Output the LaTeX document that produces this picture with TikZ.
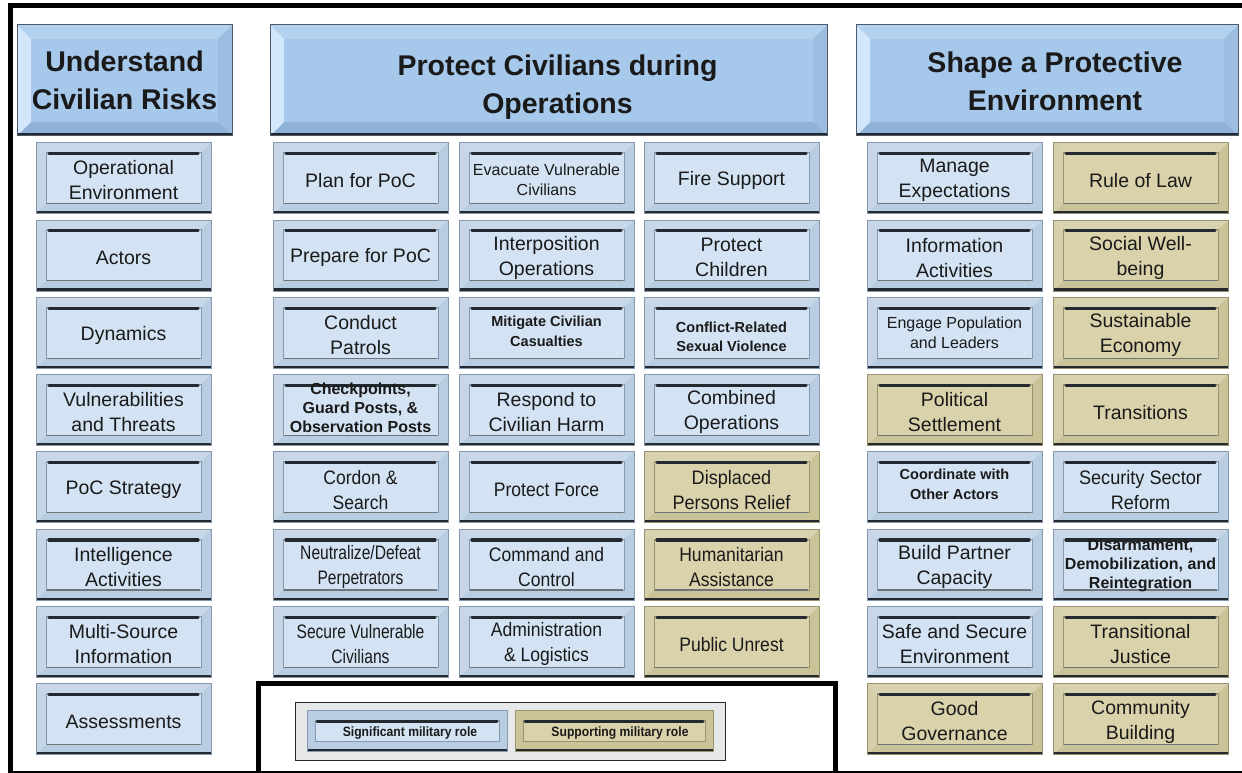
\documentclass[tikz,border=0pt]{standalone}
\usepackage{fontspec}
\setmainfont{Liberation Sans}
\newfontfamily\fntB{Liberation Sans Bold}
\newfontfamily\fntBn{Liberation Sans Bold}[FakeStretch=0.9]
\newfontfamily\fntNa{Liberation Sans}[FakeStretch=0.9]
\newfontfamily\fntNb{Liberation Sans}[FakeStretch=0.8]
\newfontfamily\fntNd{Liberation Sans}[FakeStretch=0.93]
\definecolor{txt}{HTML}{1A1A1A}
\definecolor{blueout}{HTML}{B8CCE2}
\definecolor{bluein}{HTML}{D3E3F3}
\definecolor{blueline}{HTML}{8698AE}
\definecolor{tanout}{HTML}{CBC398}
\definecolor{tanin}{HTML}{D9D2AB}
\definecolor{tanline}{HTML}{99926E}
\definecolor{dark}{HTML}{23292F}
\definecolor{hdrfill}{HTML}{A6C8EA}
\definecolor{hdrl}{HTML}{D2E7FB}
\definecolor{hdrt}{HTML}{B4D1EE}
\definecolor{hdrr}{HTML}{9EBEE1}
\definecolor{hdrb}{HTML}{90B2D8}
\definecolor{hdrrim}{HTML}{4C5A6A}
\definecolor{lgfill}{HTML}{E6E8EA}
\tikzset{
  cellbase/.style={inner sep=0pt, align=center, text=txt, line width=0.5pt},
  cell/.style={cellbase, minimum width=175pt, minimum height=71pt, draw=#1line, fill=#1out,
    path picture={
      \path (path picture bounding box.north west) coordinate (pA)
            (path picture bounding box.north east) coordinate (pB)
            (path picture bounding box.south east) coordinate (pC)
            (path picture bounding box.south west) coordinate (pD);
      \fill[white, opacity=0.25] (pA) -- (pB) -- ([shift={(-10,10)}]pB) -- ([shift={(10,10)}]pA) -- cycle;
      \fill[white, opacity=0.2] (pA) -- (pD) -- ([shift={(10,-10)}]pD) -- ([shift={(10,10)}]pA) -- cycle;
      \path[fill=#1in, draw=#1line, line width=0.7pt] ([shift={(10,10)}]pA) rectangle ([shift={(-10,-10)}]pC);
      \draw[dark, line width=3.2pt, line cap=round] ([shift={(13,11)}]pA) -- ([shift={(-13,11)}]pB);
      \draw[dark!65, line width=1.2pt] ([shift={(11,-10)}]pD) -- ([shift={(-11,-10)}]pC);
      \draw[dark, line width=5pt] (pD) -- (pC);
    }},
  cell/.default=blue,
  celltext/.style={inner sep=0pt, align=center, text=txt, font=\fontsize{19.5}{25}\selectfont},
  lgcell/.style={cellbase, minimum width=200pt, minimum height=41pt, draw=#1line, fill=#1out,
    path picture={
      \path (path picture bounding box.north west) coordinate (pA)
            (path picture bounding box.north east) coordinate (pB)
            (path picture bounding box.south east) coordinate (pC)
            (path picture bounding box.south west) coordinate (pD);
      \path[fill=#1in, draw=#1line, line width=0.7pt] ([shift={(8,10)}]pA) rectangle ([shift={(-8,-10)}]pC);
      \draw[dark, line width=3pt, line cap=round] ([shift={(10,11)}]pA) -- ([shift={(-10,11)}]pB);
      \draw[dark, line width=5pt] (pD) -- (pC);
    }},
  lgtext/.style={inner sep=0pt, text=txt, font=\fntBn\fontsize{13.5}{16}\selectfont},
  hdr/.style={cellbase, minimum height=111pt, draw=hdrrim, fill=hdrfill, line width=1pt,
    path picture={
      \path (path picture bounding box.north west) coordinate (pA)
            (path picture bounding box.north east) coordinate (pB)
            (path picture bounding box.south east) coordinate (pC)
            (path picture bounding box.south west) coordinate (pD);
      \fill[hdrt] (pA) -- (pB) -- ([shift={(-14,14)}]pB) -- ([shift={(14,14)}]pA) -- cycle;
      \fill[hdrr] (pB) -- (pC) -- ([shift={(-14,-14)}]pC) -- ([shift={(-14,14)}]pB) -- cycle;
      \fill[hdrb] (pD) -- (pC) -- ([shift={(-14,-14)}]pC) -- ([shift={(14,-14)}]pD) -- cycle;
      \fill[hdrl] (pA) -- (pD) -- ([shift={(14,-14)}]pD) -- ([shift={(14,14)}]pA) -- cycle;
      \draw[dark, line width=5pt] (pD) -- (pC);
    }},
  hdrtext/.style={inner sep=0pt, align=center, text=txt, font=\fontsize{28.5}{38}\bfseries},
  rg/.style={},
  c9/.style={font=\fntNa\fontsize{19.5}{25}\selectfont},
  c8/.style={font=\fntNb\fontsize{19.5}{25}\selectfont},
  c93/.style={font=\fntNd\fontsize{19.5}{25}\selectfont},
  nbs/.style={font=\fntB\fontsize{14.5}{19.5}\selectfont},
  nbl/.style={font=\fntB\fontsize{16}{19}\selectfont},
  sml/.style={font=\fontsize{16}{20.5}\selectfont},
}
% [dy]{name}{x,y}{colour}{text style}{text}
\newcommand\cbox[6][2.5]{%
  \node[cell=#4] (#2) at (#3) {};
  \node[celltext, #5] (#2-t) at ([shift={(0,#1)}]#2.center) {#6};}
\begin{document}
\begin{tikzpicture}[x=1pt, y=-1pt]
\useasboundingbox (0,0) rectangle (1242,773);
\fill[white] (0,0) rectangle (1242,773);
% frame
\draw[line width=5pt] (1242,5.5) -- (10,5.5) -- (10,771);
\draw[line width=2pt] (8,771.5) -- (1242,771.5);
\draw[line width=5pt] (258,775) -- (258,683) -- (835,683) -- (835,775);
% headers
\node[hdr, minimum width=215pt] (hU) at (124.5,80.5) {};
\node[hdrtext] (hU-t) at ([shift={(0,0)}]hU.center) {Understand\\Civilian Risks};
\node[hdr, minimum width=557pt] (hP) at (548.5,80.5) {};
\node[hdrtext] (hP-t) at ([shift={(9,7)}]hP.center) {Protect Civilians during\\Operations};
\node[hdr, minimum width=382pt] (hS) at (1047,80.5) {};
\node[hdrtext] (hS-t) at ([shift={(8,0.5)}]hS.center) {Shape a Protective\\Environment};
% left column
\cbox{u1}{123.5,178}{blue}{rg}{Operational\\Environment}
\cbox{u2}{123.5,255.3}{blue}{rg}{Actors}
\cbox{u3}{123.5,332.6}{blue}{rg}{Dynamics}
\cbox{u4}{123.5,409.9}{blue}{rg}{Vulnerabilities\\and Threats}
\cbox{u5}{123.5,487.2}{blue}{rg}{PoC Strategy}
\cbox{u6}{123.5,564.5}{blue}{rg}{Intelligence\\Activities}
\cbox{u7}{123.5,641.8}{blue}{rg}{Multi-Source\\Information}
\cbox{u8}{123.5,719}{blue}{rg}{Assessments}
% middle column 1
\cbox{a1}{360.5,178}{blue}{rg}{Plan for PoC}
\cbox{a2}{360.5,255.3}{blue}{rg}{Prepare for PoC}
\cbox{a3}{360.5,332.6}{blue}{rg}{Conduct\\Patrols}
\cbox[-2.5]{a4}{360.5,409.9}{blue}{nbl}{Checkpoints,\\Guard Posts, \&\\Observation Posts}
\cbox{a5}{360.5,487.2}{blue}{c9}{Cordon \&\\Search}
\cbox{a6}{360.5,564.5}{blue}{c8}{Neutralize/Defeat\\Perpetrators}
\cbox{a7}{360.5,641.8}{blue}{c8}{Secure Vulnerable\\Civilians}
% middle column 2
\cbox[2]{b1}{546.5,178}{blue}{sml}{Evacuate Vulnerable\\Civilians}
\cbox{b2}{546.5,255.3}{blue}{rg}{Interposition\\Operations}
\cbox[-1.5]{b3}{546.5,332.6}{blue}{nbs}{Mitigate Civilian\\Casualties}
\cbox{b4}{546.5,409.9}{blue}{rg}{Respond to\\Civilian Harm}
\cbox{b5}{546.5,487.2}{blue}{c9}{Protect Force}
\cbox{b6}{546.5,564.5}{blue}{c9}{Command and\\Control}
\cbox{b7}{546.5,641.8}{blue}{c9}{Administration\\\& Logistics}
% middle column 3
\cbox{c1}{731.5,178}{blue}{rg}{Fire Support}
\cbox{c2}{731.5,255.3}{blue}{rg}{Protect\\Children}
\cbox[4]{c3}{731.5,332.6}{blue}{nbs}{Conflict-Related\\Sexual Violence}
\cbox{c4}{731.5,409.9}{blue}{rg}{Combined\\Operations}
\cbox{c5}{731.5,487.2}{tan}{c93}{Displaced\\Persons Relief}
\cbox{c6}{731.5,564.5}{tan}{c9}{Humanitarian\\Assistance}
\cbox{c7}{731.5,641.8}{tan}{c9}{Public Unrest}
% right column 1
\cbox{s1}{954.5,178}{blue}{rg}{Manage\\Expectations}
\cbox{s2}{954.5,255.3}{blue}{rg}{Information\\Activities}
\cbox[0]{s3}{954.5,332.6}{blue}{sml}{Engage Population\\and Leaders}
\cbox{s4}{954.5,409.9}{tan}{rg}{Political\\Settlement}
\cbox[-3]{s5}{954.5,487.2}{blue}{nbs}{Coordinate with\\Other Actors}
\cbox{s6}{954.5,564.5}{blue}{rg}{Build Partner\\Capacity}
\cbox{s7}{954.5,641.8}{blue}{rg}{Safe and Secure\\Environment}
\cbox{s8}{954.5,719}{tan}{rg}{Good\\Governance}
% right column 2
\cbox{t1}{1140.5,178}{tan}{rg}{Rule of Law}
\cbox{t2}{1140.5,255.3}{tan}{rg}{Social Well-\\being}
\cbox{t3}{1140.5,332.6}{tan}{rg}{Sustainable\\Economy}
\cbox{t4}{1140.5,409.9}{tan}{rg}{Transitions}
\cbox{t5}{1140.5,487.2}{blue}{c93}{Security Sector\\Reform}
\cbox[0.5]{t6}{1140.5,564.5}{blue}{nbl}{Disarmament,\\Demobilization, and\\Reintegration}
\cbox{t7}{1140.5,641.8}{tan}{rg}{Transitional\\Justice}
\cbox{t8}{1140.5,719}{tan}{rg}{Community\\Building}
% legend
\node[draw=dark, fill=lgfill, line width=1pt, minimum width=430pt, minimum height=58pt, inner sep=0pt] (lg) at (510,731) {};
\node[lgcell=blue] (lsig) at (407,730.5) {};
\node[lgtext] (lsig-t) at ([shift={(3,2.5)}]lsig.center) {Significant military role};
\node[lgcell=tan, minimum width=198pt] (lsup) at (614,730.5) {};
\node[lgtext] (lsup-t) at ([shift={(6,2.5)}]lsup.center) {Supporting military role};
\end{tikzpicture}
\end{document}
